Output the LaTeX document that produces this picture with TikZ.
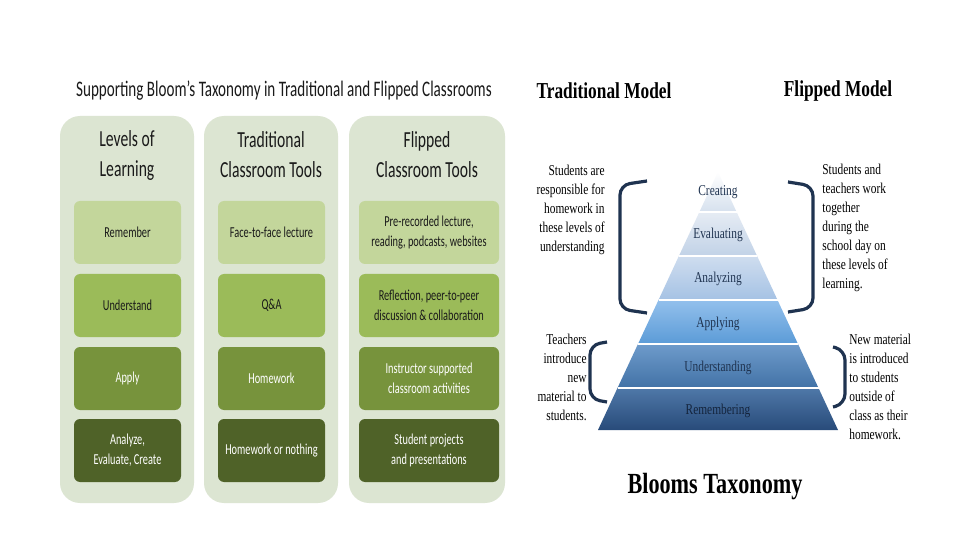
\documentclass[tikz,border=0pt]{standalone}
\usepackage{fontspec}
\setmainfont[FakeStretch=0.68]{Carlito}
\newfontfamily\camb[FakeStretch=0.76]{Liberation Serif}
\usetikzlibrary{positioning}
\definecolor{colbg}{HTML}{DCE5D2}
\definecolor{rowA}{HTML}{C3D69B}
\definecolor{rowB}{HTML}{9BBB59}
\definecolor{rowC}{HTML}{77933C}
\definecolor{rowD}{HTML}{4F6228}
\definecolor{navy}{HTML}{1F3350}
\definecolor{ink}{HTML}{1A1A1A}
\definecolor{bdA}{HTML}{D6E1EE}
\definecolor{bdB}{HTML}{E6ECF4}
\definecolor{bdC}{HTML}{C1D2E7}
\definecolor{bdD}{HTML}{CFDDEF}
\definecolor{bdE}{HTML}{A5C2E4}
\definecolor{bdF}{HTML}{93C0EC}
\definecolor{bdG}{HTML}{5B9BD7}
\definecolor{bdH}{HTML}{6E9BCB}
\definecolor{bdI}{HTML}{4272A6}
\definecolor{bdJ}{HTML}{4F78A8}
\definecolor{bdK}{HTML}{284B7A}
\definecolor{deepnavy}{HTML}{14243C}

\begin{document}
\begin{tikzpicture}[x=0.5pt,y=-0.5pt,
  colbox/.style={fill=colbg,rounded corners=10pt,minimum height=193.5pt,inner sep=0pt},
  head/.style={align=center,font=\fontsize{11.5}{15}\selectfont,text=ink},
  cell/.style={rounded corners=3pt,minimum height=31.5pt,align=center,inner sep=1pt,font=\fontsize{7.6}{10}\selectfont},
  rA/.style={cell,fill=rowA,text=ink},
  rB/.style={cell,fill=rowB,text=ink},
  rC/.style={cell,fill=rowC,text=white},
  rD/.style={cell,fill=rowD,text=white},
  side/.style={font=\camb\fontsize{7.5}{9.5}\selectfont,text=black,inner sep=0pt},
  band/.style={font=\camb\fontsize{7.5}{9}\selectfont,text=navy},
  model/.style={font=\camb\bfseries\fontsize{11.4}{13}\selectfont},
  brace/.style={draw=navy,line width=1.6pt,rounded corners=5pt}]
\useasboundingbox[fill=white] (0,0) rectangle (960,540);
% left: three columns
\node[font=\fontsize{11.1}{13}\selectfont,text=ink] (title) at (284,91) {Supporting Bloom’s Taxonomy in Traditional and Flipped Classrooms};
\node[colbox,minimum width=67pt] (colL) at (127,309.5) {};
\node[colbox,minimum width=67pt] (colT) at (271,309.5) {};
\node[colbox,minimum width=78pt] (colF) at (427,309.5) {};
\node[head] (hL) at (127,155) {Levels of\\Learning};
\node[head] (hT) at (271,155) {Traditional\\Classroom Tools};
\node[head] (hF) at (427,155) {Flipped\\Classroom Tools};
\node[rA,minimum width=53.5pt] (lvlA) at (127.5,232.5) {Remember};
\node[rB,minimum width=53.5pt] (lvlB) at (127.5,305.5) {Understand};
\node[rC,minimum width=53.5pt] (lvlC) at (127.5,378.5) {Apply};
\node[rD,minimum width=53.5pt] (lvlD) at (127.5,450.5) {Analyze,\\Evaluate, Create};
\node[rA,minimum width=53.5pt] (tradA) at (271.5,232.5) {Face-to-face lecture};
\node[rB,minimum width=53.5pt] (tradB) at (271.5,305.5) {Q\&A};
\node[rC,minimum width=53.5pt] (tradC) at (271.5,378.5) {Homework};
\node[rD,minimum width=53.5pt] (tradD) at (271.5,450.5) {Homework or nothing};
\node[rA,minimum width=70pt] (flipA) at (429,232.5) {Pre-recorded lecture,\\reading, podcasts, websites};
\node[rB,minimum width=70pt] (flipB) at (429,305.5) {Reflection, peer-to-peer\\discussion \& collaboration};
\node[rC,minimum width=70pt] (flipC) at (429,378.5) {Instructor supported\\classroom activities};
\node[rD,minimum width=70pt] (flipD) at (429,450.5) {Student projects\\and presentations};
% right: pyramid
\node[model] (tradM) at (604,91) {Traditional Model};
\node[model] (flipM) at (838,91) {Flipped Model};
\shade[top color=white,bottom color=bdA] (718,172) -- (736.6,212) -- (699.4,212) -- cycle;
\shade[top color=bdB,bottom color=bdC] (699.4,212) -- (736.6,212) -- (757.1,256) -- (678.9,256) -- cycle;
\shade[top color=bdD,bottom color=bdE] (678.9,256) -- (757.1,256) -- (777.5,300) -- (658.5,300) -- cycle;
\shade[top color=bdF,bottom color=bdG] (658.5,300) -- (777.5,300) -- (798,344) -- (638,344) -- cycle;
\shade[top color=bdH,bottom color=bdI] (638,344) -- (798,344) -- (818.5,388) -- (617.5,388) -- cycle;
\shade[top color=bdJ,bottom color=bdK] (617.5,388) -- (818.5,388) -- (838,430) -- (598,430) -- cycle;
\draw[white,line width=1pt] (699.4,212) -- (736.6,212) (678.9,256) -- (757.1,256) (658.5,300) -- (777.5,300) (638,344) -- (798,344) (617.5,388) -- (818.5,388);
\node[band] (crea) at (718,192) {Creating};
\node[band] (eval) at (718,235) {Evaluating};
\node[band] (anal) at (718,279) {Analyzing};
\node[band] (appl) at (718,324) {Applying};
\node[band] (unde) at (718,368) {Understanding};
\node[band,text=deepnavy] (reme) at (718,411) {Remembering};
% brackets
\draw[brace] (647,181) -- (620,185) -- (620,309) -- (647,313);
\draw[brace] (607,342) -- (590,345) -- (590,399) -- (607,402);
\draw[brace] (788,182) -- (813,186) -- (813,308) -- (788,312);
\draw[brace] (833,347) -- (845,350) -- (845,404) -- (833,407);
% side texts
\node[side,align=right,anchor=north east] (hwT) at (605,165) {Students are\\responsible for\\homework in\\these levels of\\understanding};
\node[side,align=right,anchor=north east] (newT) at (587,334) {Teachers\\introduce\\new\\material to\\students.};
\node[side,align=left,anchor=north west] (hwF) at (822,164) {Students and\\teachers work\\together\\during the\\school day on\\these levels of\\learning.};
\node[side,align=left,anchor=north west] (newF) at (849,334) {New material\\is introduced\\to students\\outside of\\class as their\\homework.};
\node[font=\camb\bfseries\fontsize{14.6}{16}\selectfont] (bloom) at (715,487) {Blooms Taxonomy};
\end{tikzpicture}
\end{document}
